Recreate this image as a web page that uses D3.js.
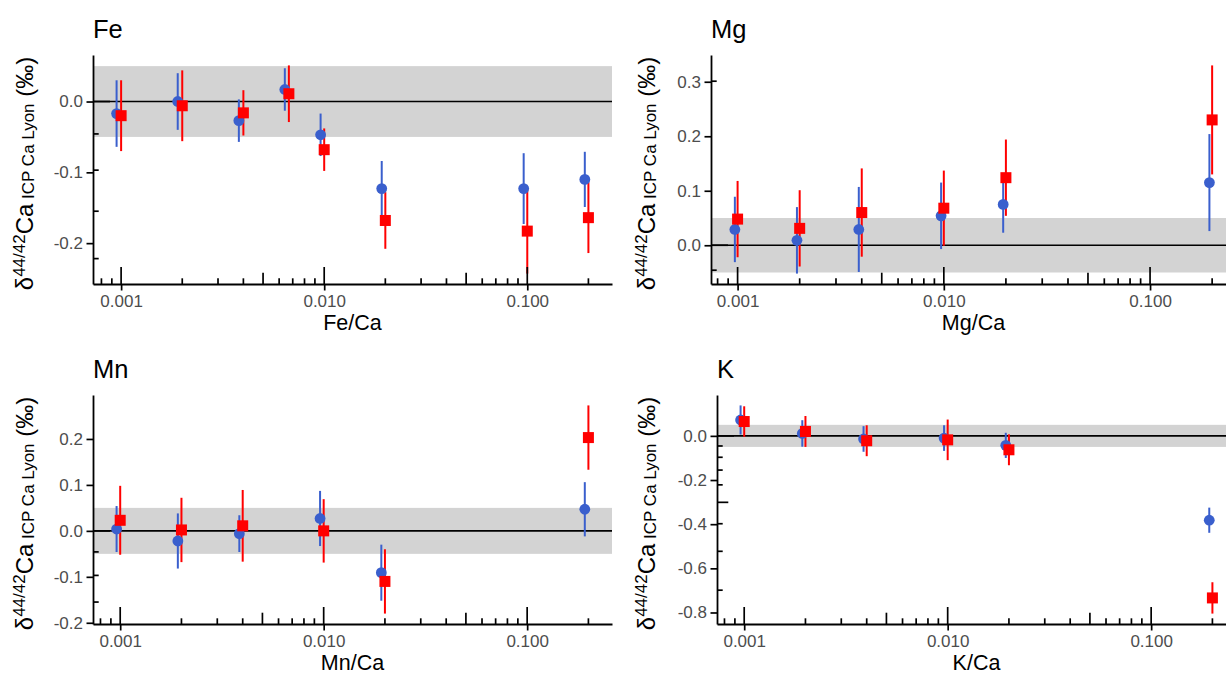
<!DOCTYPE html>
<html><head><meta charset="utf-8">
<script src="https://cdn.jsdelivr.net/npm/d3@7"></script>
<style>
body{margin:0;background:#fff}
svg{display:block}
text{font-family:"Liberation Sans",Arial,sans-serif}
</style>
</head><body>
<svg id="c" width="1226" height="674"></svg>
<script>
// ---------- data ----------
const panelNames = ["Fe", "Mg", "Mn", "K"];
const xAxisTitles = ["Fe/Ca", "Mg/Ca", "Mn/Ca", "K/Ca"];
const xTickValues = [0.001, 0.01, 0.1];
const xTickLabels = ["0.001", "0.010", "0.100"];
const bandHalfWidth = 0.05;

// Fe
const feXBlue = [0.00095, 0.0019, 0.0038, 0.0064, 0.0096, 0.0192, 0.096, 0.192];
const feYBlue = [-0.017, 0.000, -0.027, 0.017, -0.047, -0.123, -0.123, -0.110];
const feEBlue = [0.047, 0.040, 0.030, 0.030, 0.030, 0.039, 0.050, 0.039];
const feXRed  = [0.001, 0.002, 0.004, 0.0067, 0.01, 0.02, 0.1, 0.2];
const feYRed  = [-0.020, -0.006, -0.016, 0.011, -0.068, -0.168, -0.183, -0.164];
const feERed  = [0.050, 0.050, 0.032, 0.040, 0.030, 0.040, 0.060, 0.050];
const feYTicks = [-0.2, -0.1, 0.0];
const feYTickLabels = ["-0.2", "-0.1", "0.0"];

// Mg
const mgXBlue = [0.00097, 0.00194, 0.00387, 0.0097, 0.0194, 0.194];
const mgYBlue = [0.029, 0.009, 0.029, 0.054, 0.075, 0.115];
const mgEBlue = [0.060, 0.061, 0.078, 0.061, 0.052, 0.089];
const mgXRed  = [0.001, 0.002, 0.004, 0.01, 0.02, 0.2];
const mgYRed  = [0.048, 0.031, 0.060, 0.068, 0.124, 0.230];
const mgERed  = [0.070, 0.070, 0.081, 0.069, 0.070, 0.100];
const mgYTicks = [0.0, 0.1, 0.2, 0.3];
const mgYTickLabels = ["0.0", "0.1", "0.2", "0.3"];

// Mn
const mnXBlue = [0.00096, 0.00192, 0.00385, 0.0096, 0.0192, 0.192];
const mnYBlue = [0.004, -0.022, -0.006, 0.027, -0.091, 0.047];
const mnEBlue = [0.050, 0.060, 0.040, 0.060, 0.061, 0.059];
const mnXRed  = [0.001, 0.002, 0.004, 0.01, 0.02, 0.2];
const mnYRed  = [0.023, 0.002, 0.011, 0.000, -0.110, 0.203];
const mnERed  = [0.075, 0.070, 0.078, 0.069, 0.070, 0.070];
const mnYTicks = [-0.2, -0.1, 0.0, 0.1, 0.2];
const mnYTickLabels = ["-0.2", "-0.1", "0.0", "0.1", "0.2"];

// K
const kXBlue = [0.00096, 0.00193, 0.00386, 0.0096, 0.0193, 0.193];
const kYBlue = [0.072, 0.011, -0.014, -0.010, -0.043, -0.382];
const kEBlue = [0.066, 0.060, 0.058, 0.058, 0.057, 0.057];
const kXRed  = [0.001, 0.002, 0.004, 0.01, 0.02, 0.2];
const kYRed  = [0.065, 0.020, -0.022, -0.018, -0.063, -0.734];
const kERed  = [0.069, 0.070, 0.070, 0.092, 0.070, 0.071];
const kYTicks = [-0.8, -0.6, -0.4, -0.2, 0.0];
const kYTickLabels = ["-0.8", "-0.6", "-0.4", "-0.2", "0.0"];

// ---------- layout / style ----------
const BLUE = "#3a5fcd", RED = "#ff0000", BAND = "#d3d3d3";
const panels = [
  {name: panelNames[0], xt: xAxisTitles[0], xB: feXBlue, yB: feYBlue, eB: feEBlue, xR: feXRed, yR: feYRed, eR: feERed, yt: feYTicks, ytl: feYTickLabels,
   box: {l: 93, r: 612, t: 55, b: 284}, ytX: 33},
  {name: panelNames[1], xt: xAxisTitles[1], xB: mgXBlue, yB: mgYBlue, eB: mgEBlue, xR: mgXRed, yR: mgYRed, eR: mgERed, yt: mgYTicks, ytl: mgYTickLabels,
   box: {l: 711, r: 1236, t: 55, b: 284}, ytX: 655},
  {name: panelNames[2], xt: xAxisTitles[2], xB: mnXBlue, yB: mnYBlue, eB: mnEBlue, xR: mnXRed, yR: mnYRed, eR: mnERed, yt: mnYTicks, ytl: mnYTickLabels,
   box: {l: 93, r: 612, t: 395, b: 624}, ytX: 33},
  {name: panelNames[3], xt: xAxisTitles[3], xB: kXBlue, yB: kYBlue, eB: kEBlue, xR: kXRed, yR: kYRed, eR: kERed, yt: kYTicks, ytl: kYTickLabels,
   box: {l: 717, r: 1236, t: 395, b: 624}, ytX: 655}
];

const svg = d3.select("#c");
const TICK_SHORT = 5.7, TICK_MID = 11.3, TICK_LONG = 17;

panels.forEach(p => {
  const B = p.box;
  // x scale: log, 5% expansion in log space
  const lx = p.xB.concat(p.xR).map(Math.log10);
  const lmin = d3.min(lx), lmax = d3.max(lx), lr = lmax - lmin;
  const x = d3.scaleLog()
    .domain([Math.pow(10, lmin - 0.05 * lr), Math.pow(10, lmax + 0.05 * lr)])
    .range([B.l, B.r]);
  // y scale: linear, 5% expansion
  const ys = [bandHalfWidth, -bandHalfWidth];
  p.yB.forEach((v, i) => ys.push(v - p.eB[i], v + p.eB[i]));
  p.yR.forEach((v, i) => ys.push(v - p.eR[i], v + p.eR[i]));
  const ymin = d3.min(ys), ymax = d3.max(ys), yr = ymax - ymin;
  const y = d3.scaleLinear().domain([ymin - 0.05 * yr, ymax + 0.05 * yr]).range([B.b, B.t]);

  const g = svg.append("g");
  // band
  g.append("rect")
    .attr("x", B.l).attr("width", B.r - B.l)
    .attr("y", y(bandHalfWidth)).attr("height", y(-bandHalfWidth) - y(bandHalfWidth))
    .attr("fill", BAND);
  // zero line
  g.append("line")
    .attr("x1", B.l).attr("x2", B.r).attr("y1", y(0)).attr("y2", y(0))
    .attr("stroke", "#000").attr("stroke-width", 1.6);

  const series = [
    {xs: p.xB, ys: p.yB, es: p.eB, color: BLUE, shape: "circle"},
    {xs: p.xR, ys: p.yR, es: p.eR, color: RED, shape: "square"}
  ];
  // error bars
  series.forEach(s => {
    g.append("g").selectAll("line").data(d3.range(s.xs.length)).join("line")
      .attr("x1", i => x(s.xs[i])).attr("x2", i => x(s.xs[i]))
      .attr("y1", i => y(s.ys[i] - s.es[i])).attr("y2", i => y(s.ys[i] + s.es[i]))
      .attr("stroke", s.color).attr("stroke-width", 2);
  });
  // points
  series.forEach(s => {
    const pg = g.append("g");
    if (s.shape === "circle") {
      pg.selectAll("circle").data(d3.range(s.xs.length)).join("circle")
        .attr("cx", i => x(s.xs[i])).attr("cy", i => y(s.ys[i])).attr("r", 5.4)
        .attr("fill", s.color);
    } else {
      const sz = 11;
      pg.selectAll("rect").data(d3.range(s.xs.length)).join("rect")
        .attr("x", i => x(s.xs[i]) - sz / 2).attr("y", i => y(s.ys[i]) - sz / 2)
        .attr("width", sz).attr("height", sz).attr("fill", s.color);
    }
  });

  // log ticks (annotation_logticks style) on bottom and left
  const lt = g.append("g").attr("stroke", "#000").attr("stroke-width", 1.7);
  const [xl0, xl1] = x.domain().map(Math.log10);
  for (let k = Math.floor(xl0); k <= Math.ceil(xl1); k++) {
    for (let i = 1; i <= 9; i++) {
      const v = k + Math.log10(i);
      if (v < xl0 || v > xl1) continue;
      const len = i === 1 ? TICK_LONG : (i === 5 ? TICK_MID : TICK_SHORT);
      const px = x(Math.pow(10, v));
      lt.append("line").attr("x1", px).attr("x2", px).attr("y1", B.b).attr("y2", B.b - len);
    }
  }
  const [yl0, yl1] = y.domain();
  for (let k = Math.floor(yl0); k <= Math.ceil(yl1); k++) {
    for (let i = 1; i <= 9; i++) {
      const v = k + Math.log10(i);
      if (v < yl0 || v > yl1) continue;
      const len = i === 1 ? TICK_LONG : (i === 5 ? TICK_MID : TICK_SHORT);
      const py = y(v);
      lt.append("line").attr("x1", B.l).attr("x2", B.l + len).attr("y1", py).attr("y2", py);
    }
  }

  // axes
  const xa = g.append("g").attr("transform", `translate(0,${B.b})`)
    .call(d3.axisBottom(x).tickValues(xTickValues).tickFormat((d, i) => xTickLabels[i])
      .tickSizeInner(6.5).tickSizeOuter(0).tickPadding(4));
  const ya = g.append("g").attr("transform", `translate(${B.l},0)`)
    .call(d3.axisLeft(y).tickValues(p.yt).tickFormat((d, i) => p.ytl[i])
      .tickSizeInner(6.5).tickSizeOuter(0).tickPadding(3.5));
  [xa, ya].forEach(a => {
    a.select(".domain").attr("stroke", "#000").attr("stroke-width", 1.8);
    a.selectAll(".tick line").attr("stroke", "#000").attr("stroke-width", 1.7);
    a.selectAll(".tick text").attr("fill", "#4d4d4d").attr("font-size", 17)
      .attr("font-family", "Liberation Sans, Arial, sans-serif");
  });

  // panel title
  g.append("text").attr("x", B.l).attr("y", B.t - 17)
    .attr("font-size", 25.5).attr("fill", "#000").text(p.name);
  // x axis title
  g.append("text").attr("x", (B.l + B.r) / 2).attr("y", B.b + 46)
    .attr("text-anchor", "middle").attr("font-size", 21.5).attr("fill", "#000").text(p.xt);
  // y axis title
  const cy = (B.t + B.b) / 2 + 4;
  const yt = g.append("text")
    .attr("transform", `translate(${p.ytX},${cy}) rotate(-90)`)
    .attr("text-anchor", "middle").attr("font-size", 24).attr("fill", "#000");
  yt.append("tspan").text("δ");
  yt.append("tspan").attr("font-size", 17).attr("dy", -8).text("44/42");
  yt.append("tspan").attr("dy", 8).text("Ca");
  yt.append("tspan").attr("font-size", 17).attr("dy", 1).text(" ICP Ca Lyon");
  yt.append("tspan").attr("dy", -1).text(" (‰)");
});
</script>
</body></html>
